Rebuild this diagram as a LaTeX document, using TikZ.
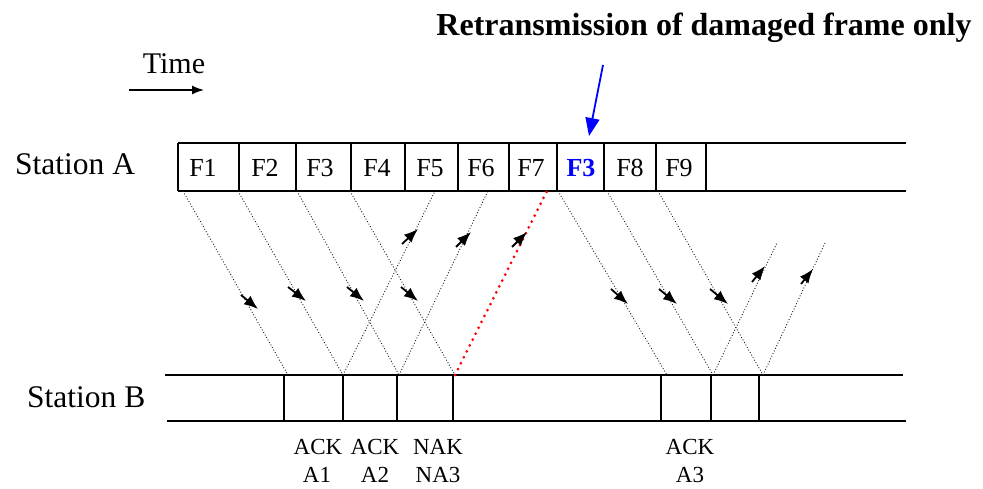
\documentclass[tikz,border=0pt]{standalone}
\usepackage{fontspec}
\setmainfont{Liberation Serif}
\usetikzlibrary{arrows.meta}
\begin{document}
\begin{tikzpicture}[x=1pt,y=-1pt,
  strip/.style={line width=2.2pt},
  divider/.style={line width=2.2pt},
  frameline/.style={dotted,line width=0.9pt,black!90},
  nakline/.style={red,line width=3pt,line cap=round,dash pattern=on 0pt off 6.6pt},
  dirarrow/.style={line width=1.8pt,-{Latex[length=14pt,width=11pt]}},
  flabel/.style={font=\fontsize{26}{28}\selectfont,anchor=base,inner sep=0pt},
  blabel/.style={font=\fontsize{23}{26}\selectfont,anchor=base,inner sep=0pt},
  stlabel/.style={font=\fontsize{31.5}{33}\selectfont,anchor=base west,inner sep=0pt}]
\useasboundingbox (0,0) rectangle (983,489);

% title and pointer
\node[font=\bfseries\fontsize{32}{34}\selectfont,anchor=base,inner sep=0pt] (title) at (704,36) {Retransmission of damaged frame only};
\coordinate (ptrS) at (603,65);
\coordinate (ptrE) at (589,136);
\draw[blue,line width=1.8pt,-{Triangle[length=18pt,width=14pt]}] (ptrS) -- (ptrE);

% time
\node[font=\fontsize{30}{32}\selectfont,anchor=base,inner sep=0pt] (time) at (174,74) {Time};
\coordinate (tS) at (129,90);
\coordinate (tE) at (204,90);
\draw[line width=1.4pt,-{Latex[length=12pt,width=9pt]}] (tS) -- (tE);

% station A
\node[stlabel] (stA) at (15,175) {Station A};
\draw[strip] (178,143) -- (906,143);
\draw[strip] (178,191) -- (906,191);
\foreach \x in {178,239,296,351,405,458,509,557,604,656,706}
  \draw[divider] (\x,143) -- (\x,191);
\node[flabel] (f1) at (203,177) {F1};
\node[flabel] (f2) at (265,177) {F2};
\node[flabel] (f3) at (320,177) {F3};
\node[flabel] (f4) at (377,177) {F4};
\node[flabel] (f5) at (430,177) {F5};
\node[flabel] (f6) at (481,177) {F6};
\node[flabel] (f7) at (531,177) {F7};
\node[flabel,text=blue,font=\bfseries\fontsize{26}{28}\selectfont] (f3r) at (581,177) {F3};
\node[flabel] (f8) at (630,177) {F8};
\node[flabel] (f9) at (679,177) {F9};

% station B
\node[stlabel] (stB) at (27,407) {Station B};
\draw[strip] (165,375) -- (903,375);
\draw[strip] (167,421) -- (906,421);
\foreach \x in {284,343,397,453,661,711,759}
  \draw[divider] (\x,375) -- (\x,421);

% endpoints on station A
\coordinate (a1) at (183,191);
\coordinate (a2) at (238,191);
\coordinate (a3) at (297,191);
\coordinate (a4) at (350,191);
\coordinate (a5) at (435,191);
\coordinate (a6) at (488,191);
\coordinate (a7) at (547,191);
\coordinate (a8) at (558,191);
\coordinate (a9) at (607,191);
\coordinate (a10) at (658,191);
\coordinate (u3end) at (777,243);
\coordinate (u4end) at (825,243);
% endpoints on station B
\coordinate (b1) at (288,375);
\coordinate (b2) at (343,375);
\coordinate (b3) at (399,375);
\coordinate (b4) at (455,375);
\coordinate (b5) at (667,375);
\coordinate (b6) at (713,375);
\coordinate (b7) at (763,375);

% frame lines
\draw[frameline] (a1) -- (b1);
\draw[frameline] (a2) -- (b2);
\draw[frameline] (a3) -- (b3);
\draw[frameline] (a4) -- (b4);
\draw[frameline] (b2) -- (a5);
\draw[frameline] (b3) -- (a6);
\draw[nakline] (b4) -- (a7);
\draw[frameline] (a8) -- (b5);
\draw[frameline] (a9) -- (b6);
\draw[frameline] (a10) -- (b7);
\draw[frameline] (b6) -- (u3end);
\draw[frameline] (b7) -- (u4end);

% direction arrows
\draw[dirarrow] (241,295) -- (258,309);
\draw[dirarrow] (288,287) -- (306,301);
\draw[dirarrow] (347,287) -- (364,301);
\draw[dirarrow] (401,287) -- (418,301);
\draw[dirarrow] (402,244) -- (418,229);
\draw[dirarrow] (456,247) -- (471,232);
\draw[dirarrow] (512,247) -- (527,232);
\draw[dirarrow] (611,289) -- (628,304);
\draw[dirarrow] (659,289) -- (677,304);
\draw[dirarrow] (710,289) -- (728,304);
\draw[dirarrow] (752,282) -- (765,266);
\draw[dirarrow] (801,284) -- (813,269);

% bottom labels
\node[blabel] (l1a) at (318,454) {ACK};
\node[blabel] (l1b) at (317,482) {A1};
\node[blabel] (l2a) at (375,454) {ACK};
\node[blabel] (l2b) at (375,482) {A2};
\node[blabel] (l3a) at (438,454) {NAK};
\node[blabel] (l3b) at (438,482) {NA3};
\node[blabel] (l4a) at (690,454) {ACK};
\node[blabel] (l4b) at (690,482) {A3};
\end{tikzpicture}
\end{document}
